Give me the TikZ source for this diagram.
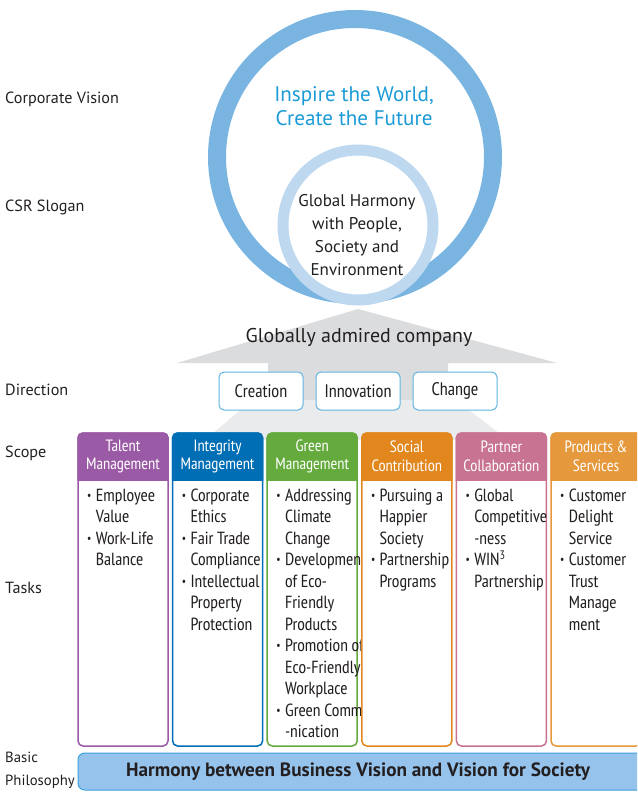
\documentclass[tikz,border=0pt]{standalone}
\usepackage{fontspec}
\setmainfont{PT Sans Narrow}
\newfontfamily\widefont{PT Sans}
\usetikzlibrary{positioning}

\newcommand\itm{\makebox[2.6mm][l]{\raisebox{0.2ex}{\fontsize{10}{10}\selectfont\textbullet}}}
\newcommand\cnt{\hspace*{2.6mm}}

\begin{document}
\begin{tikzpicture}[x=0.03cm,y=-0.03cm,
  sidelabel/.style={anchor=west,inner sep=0,text=textgray,font=\widefont\fontsize{13.8}{19.6}\selectfont,align=left},
  dirbox/.style={draw=dirblue,fill=white,line width=0.3mm,rounded corners=1.5mm,minimum width=2.52cm,minimum height=1.14cm,text=textgray,font=\fontsize{15.5}{17}\selectfont},
  headtext/.style={text=white,align=center,inner sep=0,font=\fontsize{14}{15.8}\selectfont},
  bodytext/.style={anchor=north west,align=left,inner sep=0,text=textgray,font=\fontsize{15}{18.35}\selectfont}]

\definecolor{ringblue}{RGB}{122,181,226}
\definecolor{innerblue}{RGB}{190,216,240}
\definecolor{visionblue}{RGB}{26,154,214}
\definecolor{arrowgray}{RGB}{219,220,222}
\definecolor{fangray}{RGB}{234,235,237}
\definecolor{dirblue}{RGB}{95,180,225}
\definecolor{textgray}{RGB}{35,31,32}
\definecolor{talent}{RGB}{155,90,165}
\definecolor{integrity}{RGB}{0,110,180}
\definecolor{green}{RGB}{100,170,60}
\definecolor{social}{RGB}{225,135,30}
\definecolor{partner}{RGB}{200,115,145}
\definecolor{products}{RGB}{230,152,60}
\definecolor{barfill}{RGB}{150,195,235}
\definecolor{barline}{RGB}{60,160,220}

\useasboundingbox (0,0) rectangle (637,794);
\clip (0,0) rectangle (637,794);

% grey arrow behind everything
\fill[color=arrowgray] (177,363)--(358,309)--(557,363)--(448,363)--(448,405)--(268,405)--(268,363)--cycle;
\fill[color=fangray] (252,400)--(456,400)--(508,440)--(205,440)--cycle;

% vision and slogan circles
\draw[color=ringblue,line width=5.4mm] (355,157) circle (138);
\filldraw[draw=innerblue,fill=white,line width=3.3mm] (358,225) circle (75);

\node[text=visionblue,align=center,font=\widefont\fontsize{18}{20.5}\selectfont] (vision) at (354,106) {Inspire the World,\\Create the Future};
\node[text=textgray,align=center,font=\widefont\fontsize{14.5}{19.6}\selectfont] (slogan) at (357,235) {Global Harmony\\with People,\\Society and\\Environment};

\node[text=textgray,font=\widefont\fontsize{17}{20}\selectfont] (admired) at (359,337) {Globally admired company};

% left labels
\node[sidelabel] (lvision) at (5,99) {Corporate Vision};
\node[sidelabel] (lslogan) at (5,207) {CSR Slogan};
\node[sidelabel] (ldirection) at (5,390) {Direction};
\node[sidelabel] (lscope) at (5,453) {Scope};
\node[sidelabel] (ltasks) at (5,588) {Tasks};
\node[sidelabel,font=\widefont\fontsize{12.6}{19.6}\selectfont] (lphilo) at (5,770) {Basic\\Philosophy};

% direction
\node[dirbox] (creation) at (261,391) {Creation};
\node[dirbox] (innovation) at (358,391) {Innovation};
\node[dirbox] (change) at (455,391) {Change};

% scope and tasks
\foreach \i/\col/\head/\body in {
  0/talent/{Talent\\Management}/{\itm Employee\\\cnt Value\\\itm Work-Life\\\cnt Balance},
  1/integrity/{Integrity\\Management}/{\itm Corporate\\\cnt Ethics\\\itm Fair Trade\\\cnt Compliance\\\itm Intellectual\\\cnt Property\\\cnt Protection},
  2/green/{Green\\Management}/{\itm Addressing\\\cnt Climate\\\cnt Change\\\itm Development\\\cnt of Eco-\\\cnt Friendly\\\cnt Products\\\itm Promotion of\\\cnt Eco-Friendly\\\cnt Workplace\\\itm Green Commu\\\cnt -nication},
  3/social/{Social\\Contribution}/{\itm Pursuing a\\\cnt Happier\\\cnt Society\\\itm Partnership\\\cnt Programs},
  4/partner/{Partner\\Collaboration}/{\itm Global\\\cnt Competitive\\\cnt -ness\\\itm WIN\textsuperscript{3}\\\cnt Partnership},
  5/products/{Products \&\\Services}/{\itm Customer\\\cnt Delight\\\cnt Service\\\itm Customer\\\cnt Trust\\\cnt Manage\\\cnt ment}}{
  \pgfmathsetmacro\xl{78+94.6*\i}
  \filldraw[draw=\col,fill=white,line width=0.45mm,rounded corners=1.5mm] (\xl,433) rectangle (\xl+90,746);
  \begin{scope}
    \clip (\xl-2,430) rectangle (\xl+92,480);
    \fill[color=\col,rounded corners=1.6mm] (\xl-0.75,432.25) rectangle (\xl+90.75,495);
  \end{scope}
  \node[headtext] (head\i) at (\xl+45,456.5) {\head};
  \node[bodytext] (body\i) at (\xl+9,488.5) {\body};
}

% basic philosophy
\filldraw[draw=barline,fill=barfill,line width=0.3mm,rounded corners=2mm] (78,753) rectangle (650,790);
\node[text=textgray,font=\widefont\bfseries\fontsize{16.4}{18}\selectfont] (philo) at (358,771.5) {Harmony between Business Vision and Vision for Society};

\end{tikzpicture}
\end{document}
